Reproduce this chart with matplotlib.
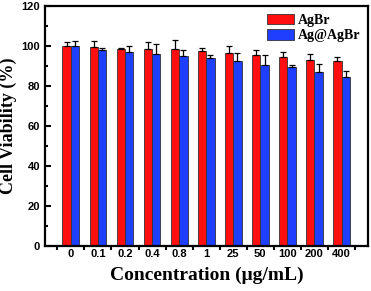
import matplotlib.pyplot as plt
import numpy as np

# concentrations (ug/mL) and viability values
conc = ['0', '0.1', '0.2', '0.4', '0.8', '1', '25', '50', '100', '200', '400']
agbr = [99.8, 99.7, 98.5, 98.3, 98.3, 97.5, 96.7, 95.3, 94.3, 93.0, 92.3]
agbr_err = [2.0, 3.0, 0.5, 3.5, 4.5, 1.3, 3.3, 2.7, 2.9, 2.8, 2.0]
agagbr = [100.0, 98.0, 97.2, 96.0, 94.8, 93.8, 92.5, 90.3, 89.3, 86.8, 84.5]
agagbr_err = [2.3, 1.2, 3.0, 5.0, 3.2, 1.9, 3.8, 5.0, 1.4, 4.0, 3.2]

fig = plt.figure(figsize=(3.71, 2.91), dpi=100)
ax = fig.add_axes([0.121, 0.155, 0.871, 0.824])

x = np.arange(len(conc))
w = 0.31
ax.bar(x - w/2, agbr, w, color='#ff0f0f', edgecolor='#333333', linewidth=0.6,
       yerr=[np.zeros(len(conc)), agbr_err], capsize=2.5,
       error_kw=dict(elinewidth=0.9, capthick=0.9, ecolor='black'), label='AgBr')
ax.bar(x + w/2, agagbr, w, color='#1f3fff', edgecolor='#333333', linewidth=0.6,
       yerr=[np.zeros(len(conc)), agagbr_err], capsize=2.5,
       error_kw=dict(elinewidth=0.9, capthick=0.9, ecolor='black'), label='Ag@AgBr')

ax.set_xlim(-0.96, 10.98)
ax.set_ylim(0, 120)
ax.set_yticks(range(0, 121, 20))
ax.set_yticks(range(10, 120, 20), minor=True)
ax.set_xticks(x)
ax.set_xticks(list(x - 0.5) + [10.5], minor=True)
ax.set_xticklabels(conc)

for lab in ax.get_xticklabels() + ax.get_yticklabels():
    lab.set_fontweight('bold')
    lab.set_fontsize(8)
    lab.set_family('Liberation Sans')

ax.tick_params(axis='y', which='major', direction='in', length=4, width=1.5)
ax.tick_params(axis='y', which='minor', direction='in', length=2.5, width=1.5)
ax.tick_params(axis='x', which='major', direction='in', length=0, pad=2)
ax.tick_params(axis='x', which='minor', direction='out', length=3, width=1.5)
for s in ax.spines.values():
    s.set_linewidth(1.6)

ax.set_xlabel('Concentration (μg/mL)', family='Liberation Serif', fontweight='bold',
              fontsize=14, labelpad=6)
ax.set_ylabel('Cell Viability (%)', family='Liberation Serif', fontweight='bold',
              fontsize=13, labelpad=3)

leg = ax.legend(loc='upper right', frameon=False, handlelength=1.9, handleheight=0.8,
                prop=dict(family='Liberation Serif', weight='bold', size=10),
                borderaxespad=0.15, labelspacing=0.15, handletextpad=0.3)

fig.savefig('out.png', dpi=100)
